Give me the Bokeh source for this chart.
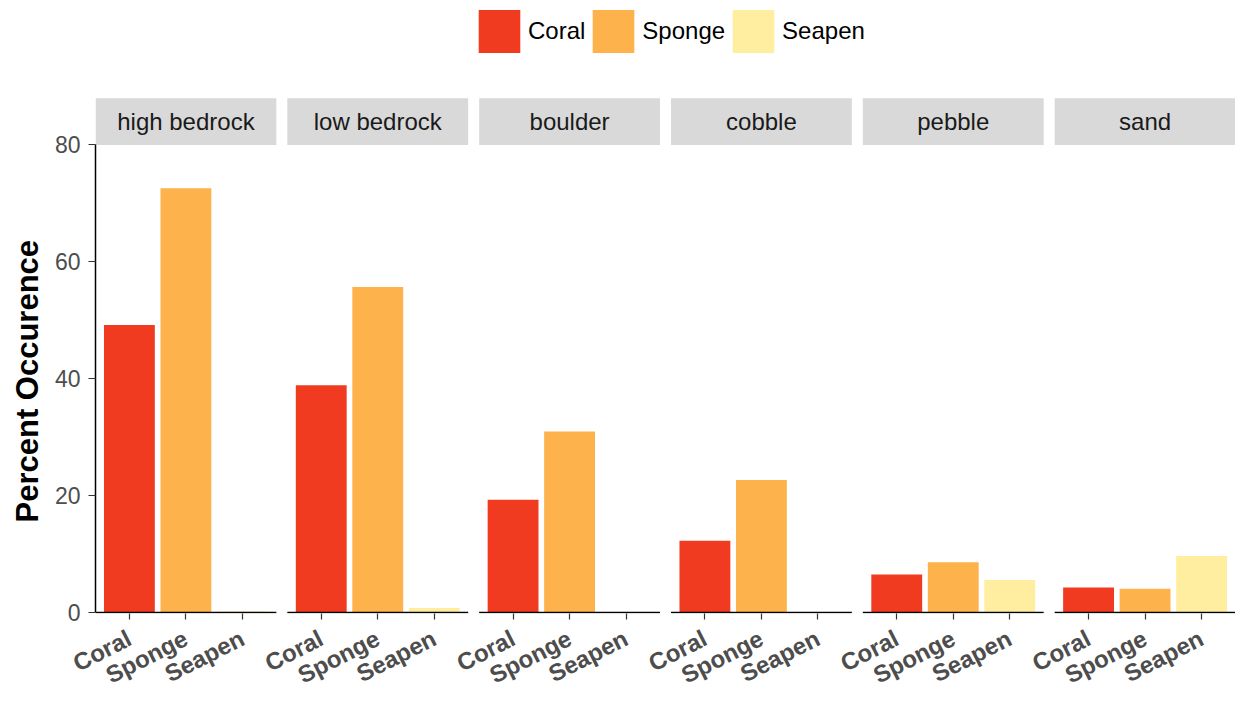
import math
from bokeh.plotting import figure
from bokeh.models import (FactorRange, Range1d, FixedTicker, Legend, LegendItem,
                          ColumnDataSource, Title)
from bokeh.core.properties import value
from bokeh.embed import file_html
from bokeh.resources import INLINE

# ---- data ----
facets = ["high bedrock", "low bedrock", "boulder", "cobble", "pebble", "sand"]
categories = ["Coral", "Sponge", "Seapen"]
coral = [49.2, 38.9, 19.3, 12.3, 6.5, 4.3]
sponge = [72.6, 55.7, 31.0, 22.7, 8.6, 4.1]
seapen = [0.2, 0.8, 0.0, 0.0, 5.6, 9.7]
colors = ["#F03B20", "#FEB24C", "#FFEDA0"]
y_ticks = [0, 20, 40, 60, 80]
y_label = "Percent Occurence"

FONT = "Liberation Sans"
pad = 0.6          # ggplot discrete expansion (from category centre)
gap_u = 0.1945     # gap between facet panels (in category units)
strip_lo, strip_hi = 80, 88

x_range = FactorRange(
    factors=[(f, c) for f in facets for c in categories],
    factor_padding=0.0,
    group_padding=2 * (pad - 0.5) + gap_u,
    range_padding=pad - 0.5,
    range_padding_units="absolute",
)

p = figure(width=1235, height=703, x_range=x_range, y_range=Range1d(-0.15, 104.7),
           output_backend="svg", toolbar_location=None,
           min_border_left=94, min_border_right=0, min_border_top=0, min_border_bottom=88)
p.outline_line_color = None
p.xgrid.visible = False
p.ygrid.visible = False
p.background_fill_color = "white"
p.border_fill_color = "white"

renderers = []
for cat, vals, col in zip(categories, [coral, sponge, seapen], colors):
    src = ColumnDataSource(dict(x=[(f, cat) for f in facets], top=vals))
    r = p.vbar(x="x", top="top", bottom=0, width=0.9, source=src,
               fill_color=col, line_color=None)
    renderers.append(r)

# panel axis lines (one per facet)
seg = ColumnDataSource(dict(
    x0=[(f, categories[0], -pad) for f in facets],
    x1=[(f, categories[-1], pad) for f in facets],
    y=[0] * len(facets)))
p.segment(x0="x0", y0="y", x1="x1", y1="y", source=seg, line_color="black", line_width=1.5)

# facet strips
strip = ColumnDataSource(dict(
    left=[(f, categories[0], -pad) for f in facets],
    right=[(f, categories[-1], pad) for f in facets],
    mid=[(f, categories[1]) for f in facets],
    label=facets))
p.quad(left="left", right="right", bottom=strip_lo, top=strip_hi, source=strip,
       fill_color="#D9D9D9", line_color=None)
p.text(x="mid", y=(strip_lo + strip_hi) / 2, text="label", source=strip,
       text_align="center", text_baseline="middle", text_font=value(FONT),
       text_font_size="24px", text_color="#1A1A1A")

# y axis
ya = p.yaxis[0]
ya.ticker = FixedTicker(ticks=y_ticks)
ya.bounds = (0, 80)
ya.major_label_text_font = FONT
ya.major_label_text_font_size = "23px"
ya.major_label_text_color = "#4D4D4D"
ya.major_label_standoff = 8
ya.axis_line_color = "black"
ya.axis_line_width = 1.5
ya.major_tick_line_color = "#333333"
ya.major_tick_line_width = 1.2
ya.major_tick_out = 7
ya.major_tick_in = 0
ya.minor_tick_line_color = None

# y axis title, centred on the 0-80 panel area
p.add_layout(Title(text=y_label, align="left", offset=91, standoff=14,
                   text_font=FONT, text_font_style="bold", text_font_size="31px",
                   text_color="black"), "left")

# x axis
xa = p.xaxis[0]
xa.axis_line_color = None
xa.major_label_orientation = math.radians(27)
xa.major_label_text_font = FONT
xa.major_label_text_font_style = "bold"
xa.major_label_text_font_size = "24px"
xa.major_label_text_color = "#4D4D4D"
xa.major_label_standoff = 17
xa.major_tick_line_color = "#333333"
xa.major_tick_line_width = 1.2
xa.major_tick_out = 6
xa.major_tick_in = 0
xa.group_text_font_size = "0px"
xa.group_text_alpha = 0
xa.separator_line_color = None

legend = Legend(
    items=[LegendItem(label=c, renderers=[r]) for c, r in zip(categories, renderers)],
    orientation="horizontal", location=(378, 555),
    glyph_width=52, glyph_height=54, label_standoff=3, spacing=2,
    padding=0, margin=0, border_line_color=None, background_fill_alpha=0,
    label_text_font=FONT, label_text_font_size="24px", label_text_color="black",
    label_height=54,
)
p.add_layout(legend)

open("out.html", "w").write(file_html(p, INLINE))
